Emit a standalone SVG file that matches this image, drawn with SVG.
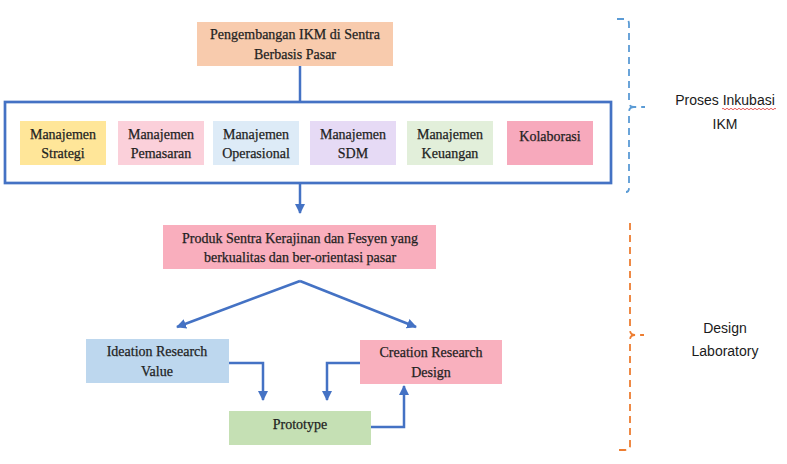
<svg xmlns="http://www.w3.org/2000/svg" width="787" height="464" viewBox="0 0 787 464">
<style>
.t{font-family:"Liberation Serif","DejaVu Serif",serif;font-size:14px;fill:#1f1f1f;stroke:#1f1f1f;stroke-width:0.25;text-anchor:middle}
.l{font-family:"Liberation Sans","Open Sans",sans-serif;font-size:14px;fill:#1a1a1a;text-anchor:middle}
.c{fill:none;stroke:#4472C4;stroke-width:2.5}
</style>
<defs>
<marker id="a" viewBox="0 0 10 10" refX="9" refY="5" markerWidth="4" markerHeight="4" orient="auto" markerUnits="strokeWidth">
<path d="M0,0L10,5L0,10z" fill="#4472C4"/>
</marker>
</defs>
<rect width="787" height="464" fill="#fff"/>

<g id="top">
<rect x="197" y="22" width="196" height="44" fill="#F8CBAD"/>
<text class="t" x="295" y="39">Pengembangan IKM di Sentra</text>
<text class="t" x="295" y="59">Berbasis Pasar</text>
</g>

<g id="incubation">
<rect x="5" y="102" width="606" height="81" fill="#fff" stroke="#4472C4" stroke-width="2.7"/>
</g>
<g id="strategi"><rect x="20" y="121" width="86" height="44" fill="#FFE699"/><text class="t" x="63" y="139">Manajemen</text><text class="t" x="63" y="158">Strategi</text></g>
<g id="pemasaran"><rect x="118" y="121" width="86" height="44" fill="#FBD0DA"/><text class="t" x="161" y="139">Manajemen</text><text class="t" x="161" y="158">Pemasaran</text></g>
<g id="operasional"><rect x="213" y="121" width="86" height="44" fill="#DDEBF7"/><text class="t" x="256" y="139">Manajemen</text><text class="t" x="256" y="158">Operasional</text></g>
<g id="sdm"><rect x="310" y="121" width="86" height="44" fill="#E6DAF5"/><text class="t" x="353" y="139">Manajemen</text><text class="t" x="353" y="158">SDM</text></g>
<g id="keuangan"><rect x="407" y="121" width="86" height="44" fill="#E2EFDA"/><text class="t" x="450" y="139">Manajemen</text><text class="t" x="450" y="158">Keuangan</text></g>
<g id="kolaborasi"><rect x="507" y="121" width="86" height="44" fill="#F7A9BC"/><text class="t" x="550" y="141">Kolaborasi</text></g>

<g id="produk">
<rect x="163" y="225" width="273" height="44" fill="#F9AEBD"/>
<text class="t" x="300" y="243">Produk Sentra Kerajinan dan Fesyen yang</text>
<text class="t" x="300" y="262">berkualitas dan ber-orientasi pasar</text>
</g>

<g id="ideation">
<rect x="86" y="339" width="143" height="44" fill="#BDD7EE"/>
<text class="t" x="157" y="356">Ideation Research</text>
<text class="t" x="157" y="376">Value</text>
</g>

<g id="creation">
<rect x="360" y="340" width="142" height="44" fill="#F9B0BE"/>
<text class="t" x="431" y="357">Creation Research</text>
<text class="t" x="431" y="377">Design</text>
</g>

<g id="prototype">
<rect x="229" y="411" width="142" height="34" fill="#C5E0B4"/>
<text class="t" x="300" y="429">Prototype</text>
</g>

<g id="connectors">
<path class="c" d="M300,66V102"/>
<path class="c" d="M300,183V213" marker-end="url(#a)"/>
<path class="c" d="M300,281L177,327" marker-end="url(#a)"/>
<path class="c" d="M300,281L416,327" marker-end="url(#a)"/>
<path class="c" d="M229,363H263V400" marker-end="url(#a)"/>
<path class="c" d="M360,363H327V400" marker-end="url(#a)"/>
<path class="c" d="M371,427H404V386" marker-end="url(#a)"/>
</g>

<g id="bracket-inkubasi">
<path d="M617,19H624Q629,19 629,24V102Q629,107 634,107H645M634,107Q629,107 629,112V188Q629,192 626,192" fill="none" stroke="#5B9BD5" stroke-width="1.8" stroke-dasharray="7,5"/>
<text class="l" x="725" y="105">Proses Inkubasi</text>
<text class="l" x="725" y="129">IKM</text>
<path d="M722,109q1,-1.5 2,0t2,0t2,0t2,0t2,0t2,0t2,0t2,0t2,0t2,0t2,0t2,0t2,0t2,0t2,0t2,0t2,0t2,0t2,0t2,0t2,0t2,0t2,0t2,0t2,0t2,0t2,0" fill="none" stroke="#e03030" stroke-width="0.8"/>
</g>

<g id="bracket-design">
<path d="M630,223V330Q630,335 635,335H644M635,335Q630,335 630,340V446Q630,450 625,450H617" fill="none" stroke="#ED7D31" stroke-width="1.8" stroke-dasharray="7,5"/>
<text class="l" x="725" y="333">Design</text>
<text class="l" x="725" y="356">Laboratory</text>
</g>
</svg>
